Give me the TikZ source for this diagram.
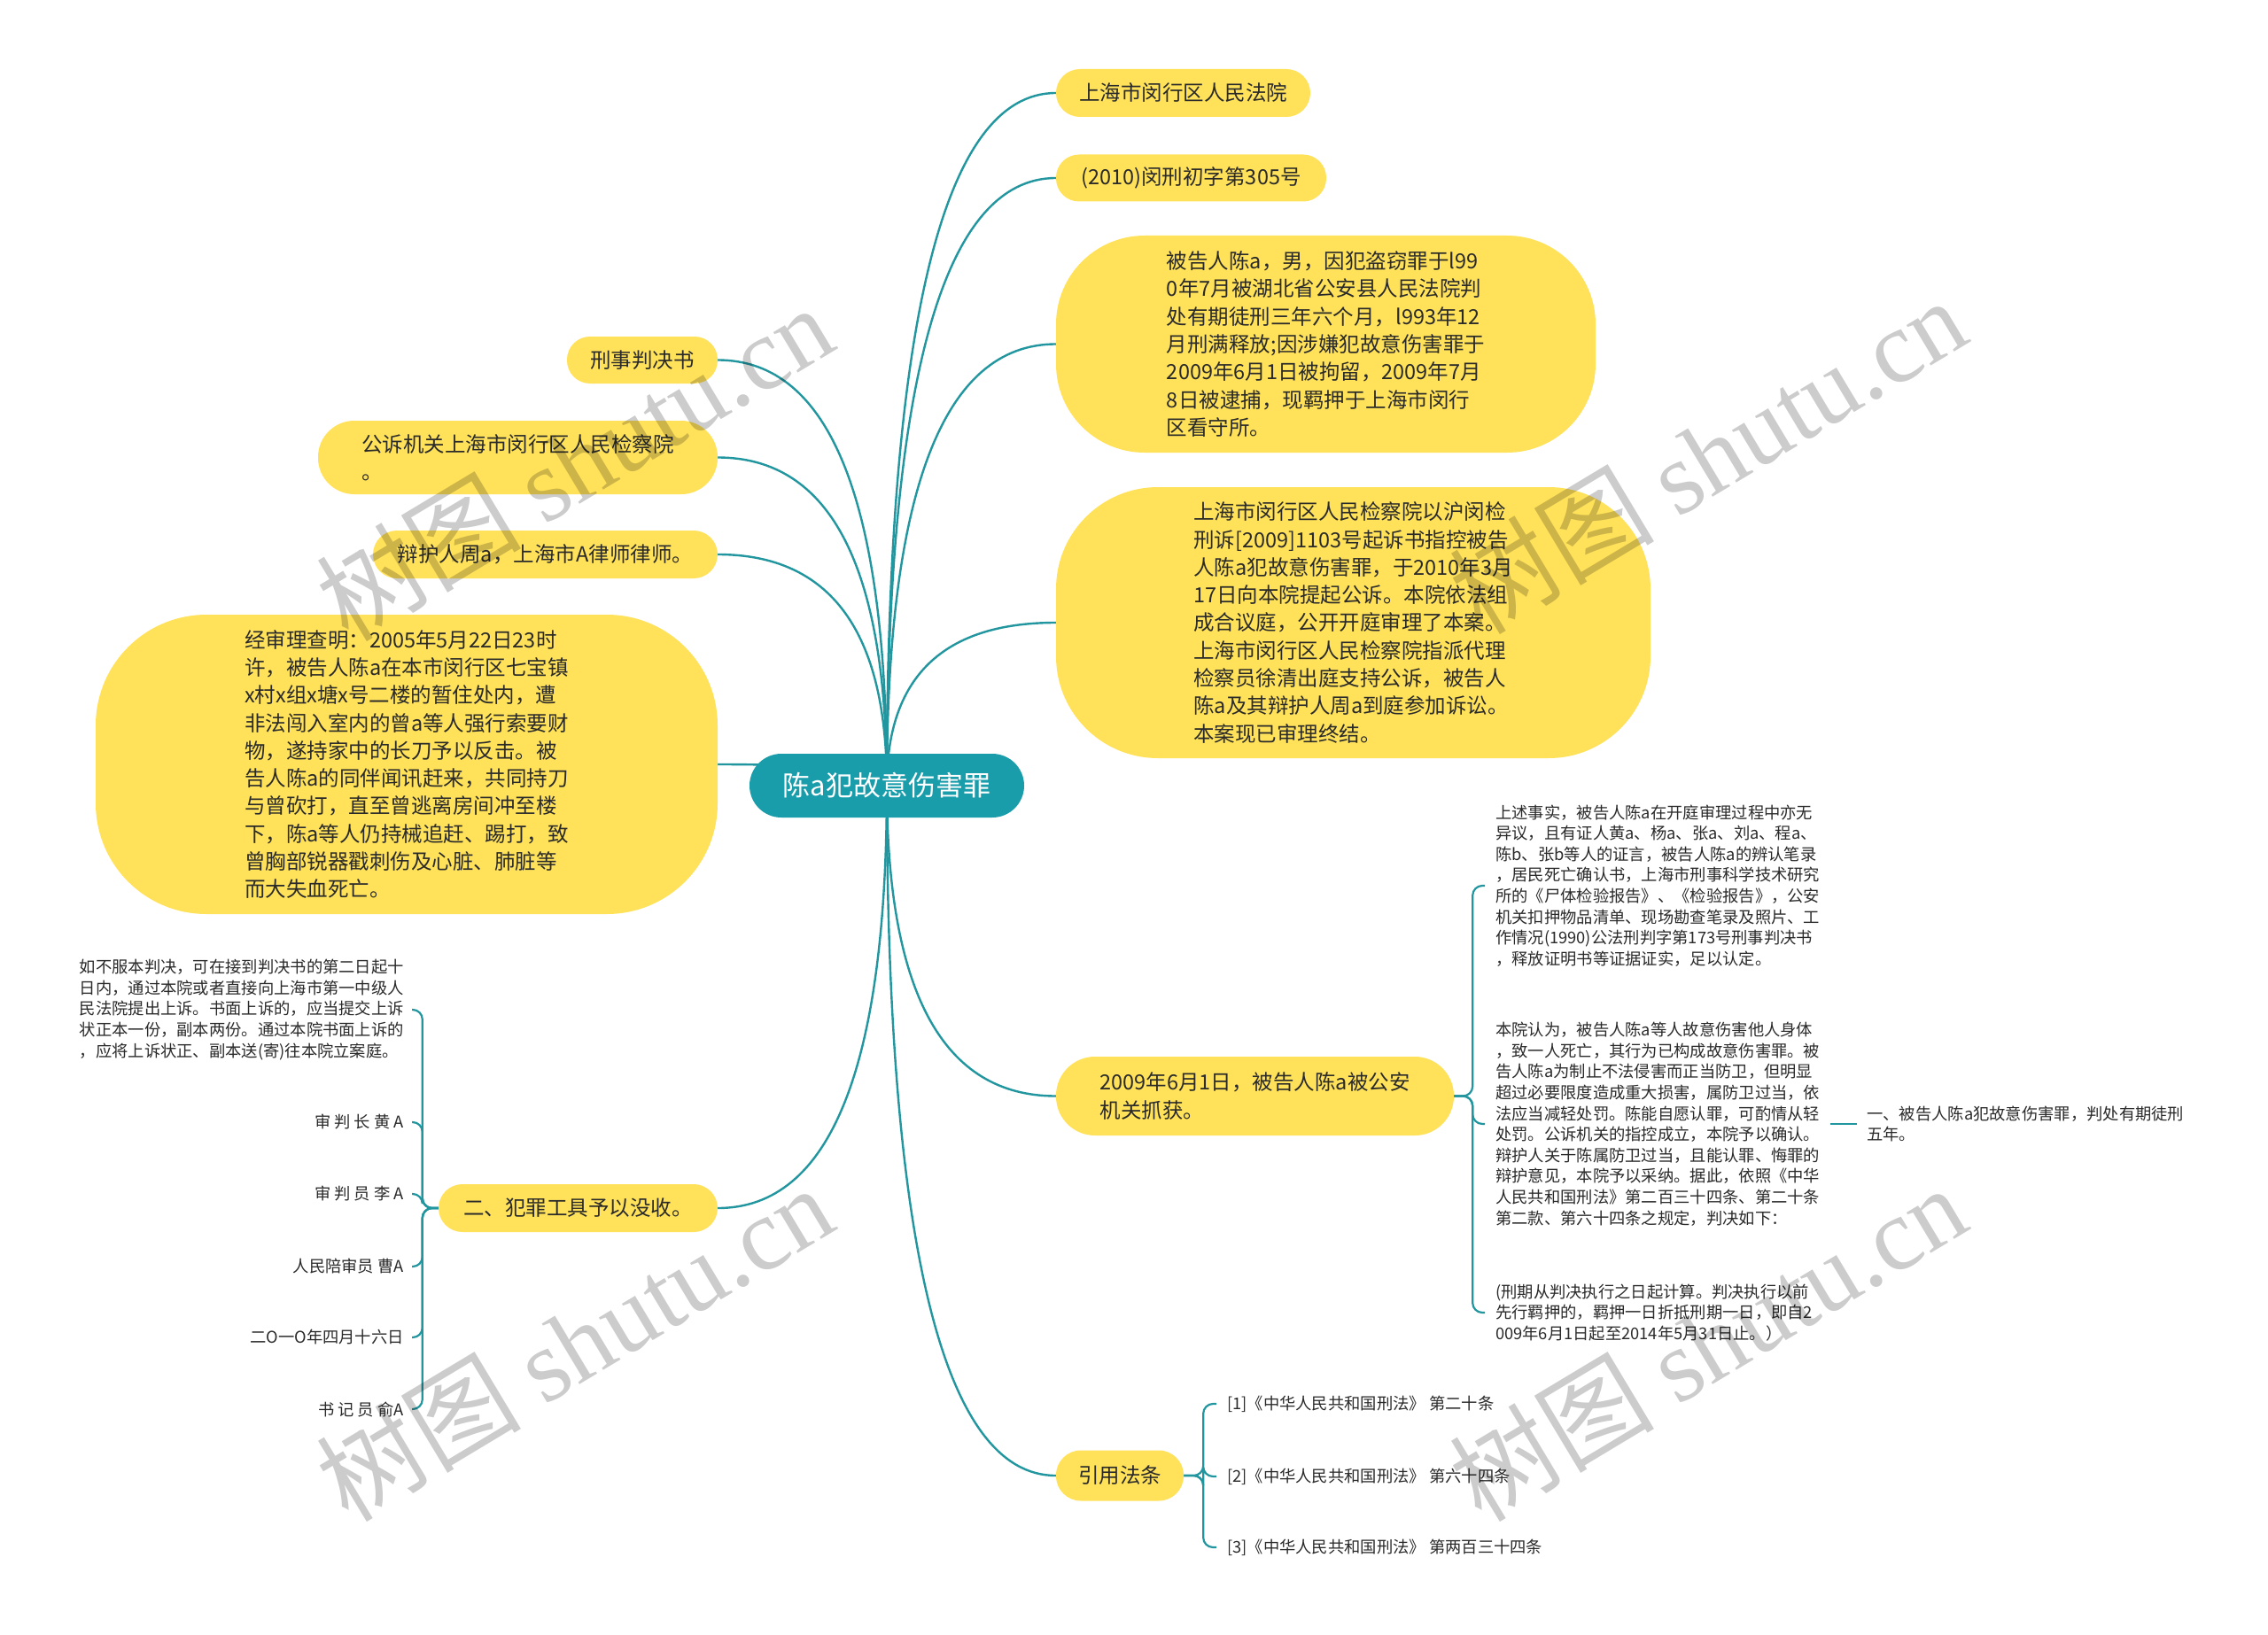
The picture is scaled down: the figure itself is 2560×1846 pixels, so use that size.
\documentclass[tikz,border=0pt]{standalone}
\usepackage{fontspec}
\setmainfont{Noto Sans CJK SC}
\newfontfamily\wmserif{Liberation Serif}
\usetikzlibrary{calc,backgrounds}
\definecolor{tealc}{HTML}{1A9DAB}
\definecolor{tealline}{HTML}{22969F}
\definecolor{yel}{HTML}{FFE25A}
\definecolor{txt}{HTML}{2A2A2A}
\begin{document}
\begin{tikzpicture}[x=1pt,y=-1pt,
  ynode/.style={fill=yel, text=txt, font=\fontsize{23.5}{31.3}\selectfont, align=left, inner sep=0pt},
  leaf/.style={text=txt, font=\fontsize{18.3}{23.6}\selectfont, align=left, inner xsep=12pt, inner ysep=2pt},
  edge/.style={draw=tealline, line width=2.4pt},
  bedge/.style={draw=tealline, line width=2.2pt, rounded corners=11pt},
  mmcurve/.style={to path={.. controls ($(\tikztostart)!0.667!(\tikztostart |- \tikztotarget)$) and ($(\tikztotarget)!0.667!(\tikztostart |- \tikztotarget)$) .. (\tikztotarget)}},
  brk/.style={to path={-- ($(\tikztostart)+(#1,0)$) |- (\tikztotarget)}},
  wm/.style={text=black, opacity=0.2, rotate=31, font=\fontsize{116}{120}\selectfont, inner sep=0pt}
]
\useasboundingbox (0,0) rectangle (2560,1846);

% centre
\node[fill=tealc, text=white, font=\fontsize{31}{36}\selectfont, minimum width=310pt, minimum height=72pt, rounded corners=36pt, inner sep=0pt] (c) at (1001,887) {陈a犯故意伤害罪};

% right main nodes
\node[ynode, minimum width=287pt, minimum height=54pt, rounded corners=27pt] (n1) at (1335.5,105) {上海市闵行区人民法院};
\node[ynode, minimum width=305pt, minimum height=53pt, rounded corners=26pt] (n2) at (1344.5,201) {(2010)闵刑初字第305号};
\node[ynode, minimum width=609pt, minimum height=245pt, rounded corners=100pt] (n3) at (1496.5,388.5) {被告人陈a，男，因犯盗窃罪于l99\\0年7月被湖北省公安县人民法院判\\处有期徒刑三年六个月，l993年12\\月刑满释放;因涉嫌犯故意伤害罪于\\2009年6月1日被拘留，2009年7月\\8日被逮捕，现羁押于上海市闵行\\区看守所。};
\node[ynode, minimum width=671pt, minimum height=306pt, rounded corners=115pt] (n4) at (1527.5,703) {上海市闵行区人民检察院以沪闵检\\刑诉[2009]1103号起诉书指控被告\\人陈a犯故意伤害罪，于2010年3月\\17日向本院提起公诉。本院依法组\\成合议庭，公开开庭审理了本案。\\上海市闵行区人民检察院指派代理\\检察员徐清出庭支持公诉，被告人\\陈a及其辩护人周a到庭参加诉讼。\\本案现已审理终结。};
\node[ynode, minimum width=449pt, minimum height=89pt, rounded corners=44pt] (n5) at (1416.5,1237.5) {2009年6月1日，被告人陈a被公安\\机关抓获。};
\node[ynode, minimum width=144pt, minimum height=57pt, rounded corners=28pt] (n6) at (1264,1666) {引用法条};

% left main nodes
\node[ynode, minimum width=170pt, minimum height=53pt, rounded corners=26pt] (l1) at (725,406.5) {刑事判决书};
\node[ynode, minimum width=451pt, minimum height=83pt, rounded corners=41pt] (l2) at (584.5,516.5) {公诉机关上海市闵行区人民检察院\\。};
\node[ynode, minimum width=389pt, minimum height=54pt, rounded corners=27pt] (l3) at (615.5,626) {辩护人周a，上海市A律师律师。};
\node[ynode, minimum width=702pt, minimum height=338pt, rounded corners=125pt] (l4) at (459,863) {经审理查明：2005年5月22日23时\\许，被告人陈a在本市闵行区七宝镇\\x村x组x塘x号二楼的暂住处内，遭\\非法闯入室内的曾a等人强行索要财\\物，遂持家中的长刀予以反击。被\\告人陈a的同伴闻讯赶来，共同持刀\\与曾砍打，直至曾逃离房间冲至楼\\下，陈a等人仍持械追赶、踢打，致\\曾胸部锐器戳刺伤及心脏、肺脏等\\而大失血死亡。};
\node[ynode, minimum width=315pt, minimum height=54pt, rounded corners=27pt] (l5) at (652.5,1364) {二、犯罪工具予以没收。};

% leaves of n5
\node[leaf, anchor=west] (r1) at (1676,1000) {上述事实，被告人陈a在开庭审理过程中亦无\\异议，且有证人黄a、杨a、张a、刘a、程a、\\陈b、张b等人的证言，被告人陈a的辨认笔录\\，居民死亡确认书，上海市刑事科学技术研究\\所的《尸体检验报告》、《检验报告》，公安\\机关扣押物品清单、现场勘查笔录及照片、工\\作情况(1990)公法刑判字第173号刑事判决书\\，释放证明书等证据证实，足以认定。};
\node[leaf, anchor=west] (r2) at (1676,1269) {本院认为，被告人陈a等人故意伤害他人身体\\，致一人死亡，其行为已构成故意伤害罪。被\\告人陈a为制止不法侵害而正当防卫，但明显\\超过必要限度造成重大损害，属防卫过当，依\\法应当减轻处罚。陈能自愿认罪，可酌情从轻\\处罚。公诉机关的指控成立，本院予以确认。\\辩护人关于陈属防卫过当，且能认罪、悔罪的\\辩护意见，本院予以采纳。据此，依照《中华\\人民共和国刑法》第二百三十四条、第二十条\\第二款、第六十四条之规定，判决如下：};
\node[leaf, anchor=west] (r3) at (1676,1482) {(刑期从判决执行之日起计算。判决执行以前\\先行羁押的，羁押一日折抵刑期一日，即自2\\009年6月1日起至2014年5月31日止。）};
\node[leaf, anchor=west, inner xsep=11pt] (r4) at (2096,1269) {一、被告人陈a犯故意伤害罪，判处有期徒刑\\五年。};

% leaves of n6
\node[leaf, anchor=west] (q1) at (1373,1585) {[1]《中华人民共和国刑法》 第二十条};
\node[leaf, anchor=west] (q2) at (1373,1667) {[2]《中华人民共和国刑法》 第六十四条};
\node[leaf, anchor=west] (q3) at (1373,1747) {[3]《中华人民共和国刑法》 第两百三十四条};

% leaves of l5
\node[leaf, anchor=east, inner xsep=9pt] (k0) at (465,1140) {如不服本判决，可在接到判决书的第二日起十\\日内，通过本院或者直接向上海市第一中级人\\民法院提出上诉。书面上诉的，应当提交上诉\\状正本一份，副本两份。通过本院书面上诉的\\，应将上诉状正、副本送(寄)往本院立案庭。};
\node[leaf, anchor=east, inner xsep=9pt] (k1) at (465,1267) {审 判 长 黄 A};
\node[leaf, anchor=east, inner xsep=9pt] (k2) at (465,1348) {审 判 员 李 A};
\node[leaf, anchor=east, inner xsep=9pt] (k3) at (465,1430) {人民陪审员 曹A};
\node[leaf, anchor=east, inner xsep=9pt] (k4) at (465,1510) {二O一O年四月十六日};
\node[leaf, anchor=east, inner xsep=9pt] (k5) at (465,1591) {书 记 员 俞A};

% watermarks
\node[wm] (w1) at (648,522) {树图 {\wmserif shutu.cn}};
\node[wm] (w2) at (1927,514) {树图 {\wmserif shutu.cn}};
\node[wm] (w3) at (648,1516) {树图 {\wmserif shutu.cn}};
\node[wm] (w4) at (1927,1516) {树图 {\wmserif shutu.cn}};

\begin{pgfonlayer}{background}
\fill[white] (0,0) rectangle (2560,1846);
\foreach \t in {n1,n2,n3,n4,n5,n6}{
  \draw[edge] (c.center) to[mmcurve] (\t.west);
}
\foreach \t in {l1,l2,l3,l4,l5}{
  \draw[edge] (c.center) to[mmcurve] (\t.east);
}
\foreach \t in {r1,r2,r3}{
  \draw[bedge] (n5.east) to[brk=21] (\t.west);
}
\draw[bedge] (r2.east) -- (r4.west);
\foreach \t in {q1,q2,q3}{
  \draw[bedge] (n6.east) to[brk=22] (\t.west);
}
\foreach \t in {k0,k1,k2,k3,k4,k5}{
  \draw[bedge] (l5.west) to[brk=-18] (\t.east);
}
\end{pgfonlayer}
\end{tikzpicture}
\end{document}
